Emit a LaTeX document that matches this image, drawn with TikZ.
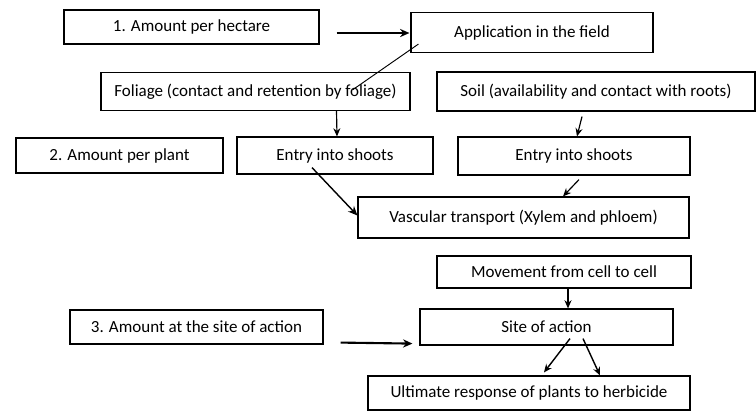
\documentclass[tikz,border=0pt]{standalone}
\usepackage{fontspec}
\setmainfont{Carlito}
\usetikzlibrary{arrows.meta,calc}

\tikzset{
  box/.style={draw, line width=1pt, inner sep=0pt, font=\fontsize{14.5}{16}\selectfont},
  pfeil/.style={-{Stealth[length=7pt,width=6pt]}, line width=1pt},
  dickpfeil/.style={-{Stealth[length=8pt,width=7pt]}, line width=1.8pt}
}

\begin{document}
\begin{tikzpicture}[x=0.03cm, y=-0.03cm]
	\useasboundingbox (0,0) rectangle (756,411); % Rand wie im Original
	
	% erste Reihe
	\node[box, minimum width=7.65cm, minimum height=1.02cm] (hectare) at (191.5,27) {1. Amount per hectare};
	\node[box, minimum width=7.26cm, minimum height=1.20cm] (field) at (532,32.5) {Application in the field};
	
	% Blatt und Boden
	\node[box, minimum width=9.27cm, minimum height=1.13cm] (foliage) at (255.5,91.25) {Foliage (contact and retention by foliage)};
	\node[box, minimum width=9.54cm, minimum height=1.17cm] (soil) at (596,91.5) {Soil (availability and contact with roots)};
	
	% Aufnahme
	\node[box, minimum width=6.21cm, minimum height=1.05cm] (plant) at (119.5,155.5) {2. Amount per plant};
	\node[box, minimum width=5.88cm, minimum height=1.11cm] (shootsA) at (335,155.5) {Entry into shoots};
	\node[box, minimum width=6.96cm, minimum height=1.14cm] (shootsB) at (574,156) {Entry into shoots};
	
	\node[box, minimum width=9.93cm, minimum height=1.23cm] (vascular) at (523.5,217.5) {Vascular transport (Xylem and phloem)};
	\node[box, minimum width=7.62cm, minimum height=0.96cm] (cell) at (564,272) {Movement from cell to cell};
	
	% Wirkort
	\node[box, minimum width=7.59cm, minimum height=1.02cm] (siteamount) at (196.5,327) {3. Amount at the site of action};
	\node[box, minimum width=7.59cm, minimum height=1.08cm] (site) at (546.5,327) {Site of action};
	\node[box, minimum width=9.66cm, minimum height=1.02cm] (response) at (529,393) {Ultimate response of plants to herbicide};
	
	% Verbindungen
	\draw[dickpfeil] ($(hectare.east)+(17,6)$) -- ($(field.west)+(-1,0.5)$);
	\draw[line width=0.8pt] ($(field.south west)+(8,-9)$) -- ($(foliage.north east)+(-58,18)$);
	\draw[pfeil] ($(foliage.south)+(81,0)$) -- ($(shootsA.north)+(2,0)$);
	\draw[pfeil] ($(soil.south)+(-14,5)$) -- ($(shootsB.north)+(3,0)$);
	\draw[dickpfeil, line width=1.2pt] ($(shootsA.south)+(-23,-7)$) -- ($(vascular.west)+(0,-2)$);
	\draw[pfeil] ($(shootsB.south)+(5,4)$) -- ($(vascular.north)+(39.5,0)$);
	\draw[pfeil] ($(cell.south)+(4,0)$) -- ($(site.north)+(21.5,0)$);
	\draw[dickpfeil] ($(siteamount.south east)+(17,-2)$) -- ($(site.south west)+(-7,-2)$);
	\draw[pfeil, line width=1.2pt] ($(site.south)+(23.5,-7)$) -- ($(response.north)+(15,-3)$);
	\draw[pfeil, line width=1.2pt] ($(site.south)+(36.5,-7)$) -- ($(response.north)+(71,0)$);
\end{tikzpicture}
\end{document}
